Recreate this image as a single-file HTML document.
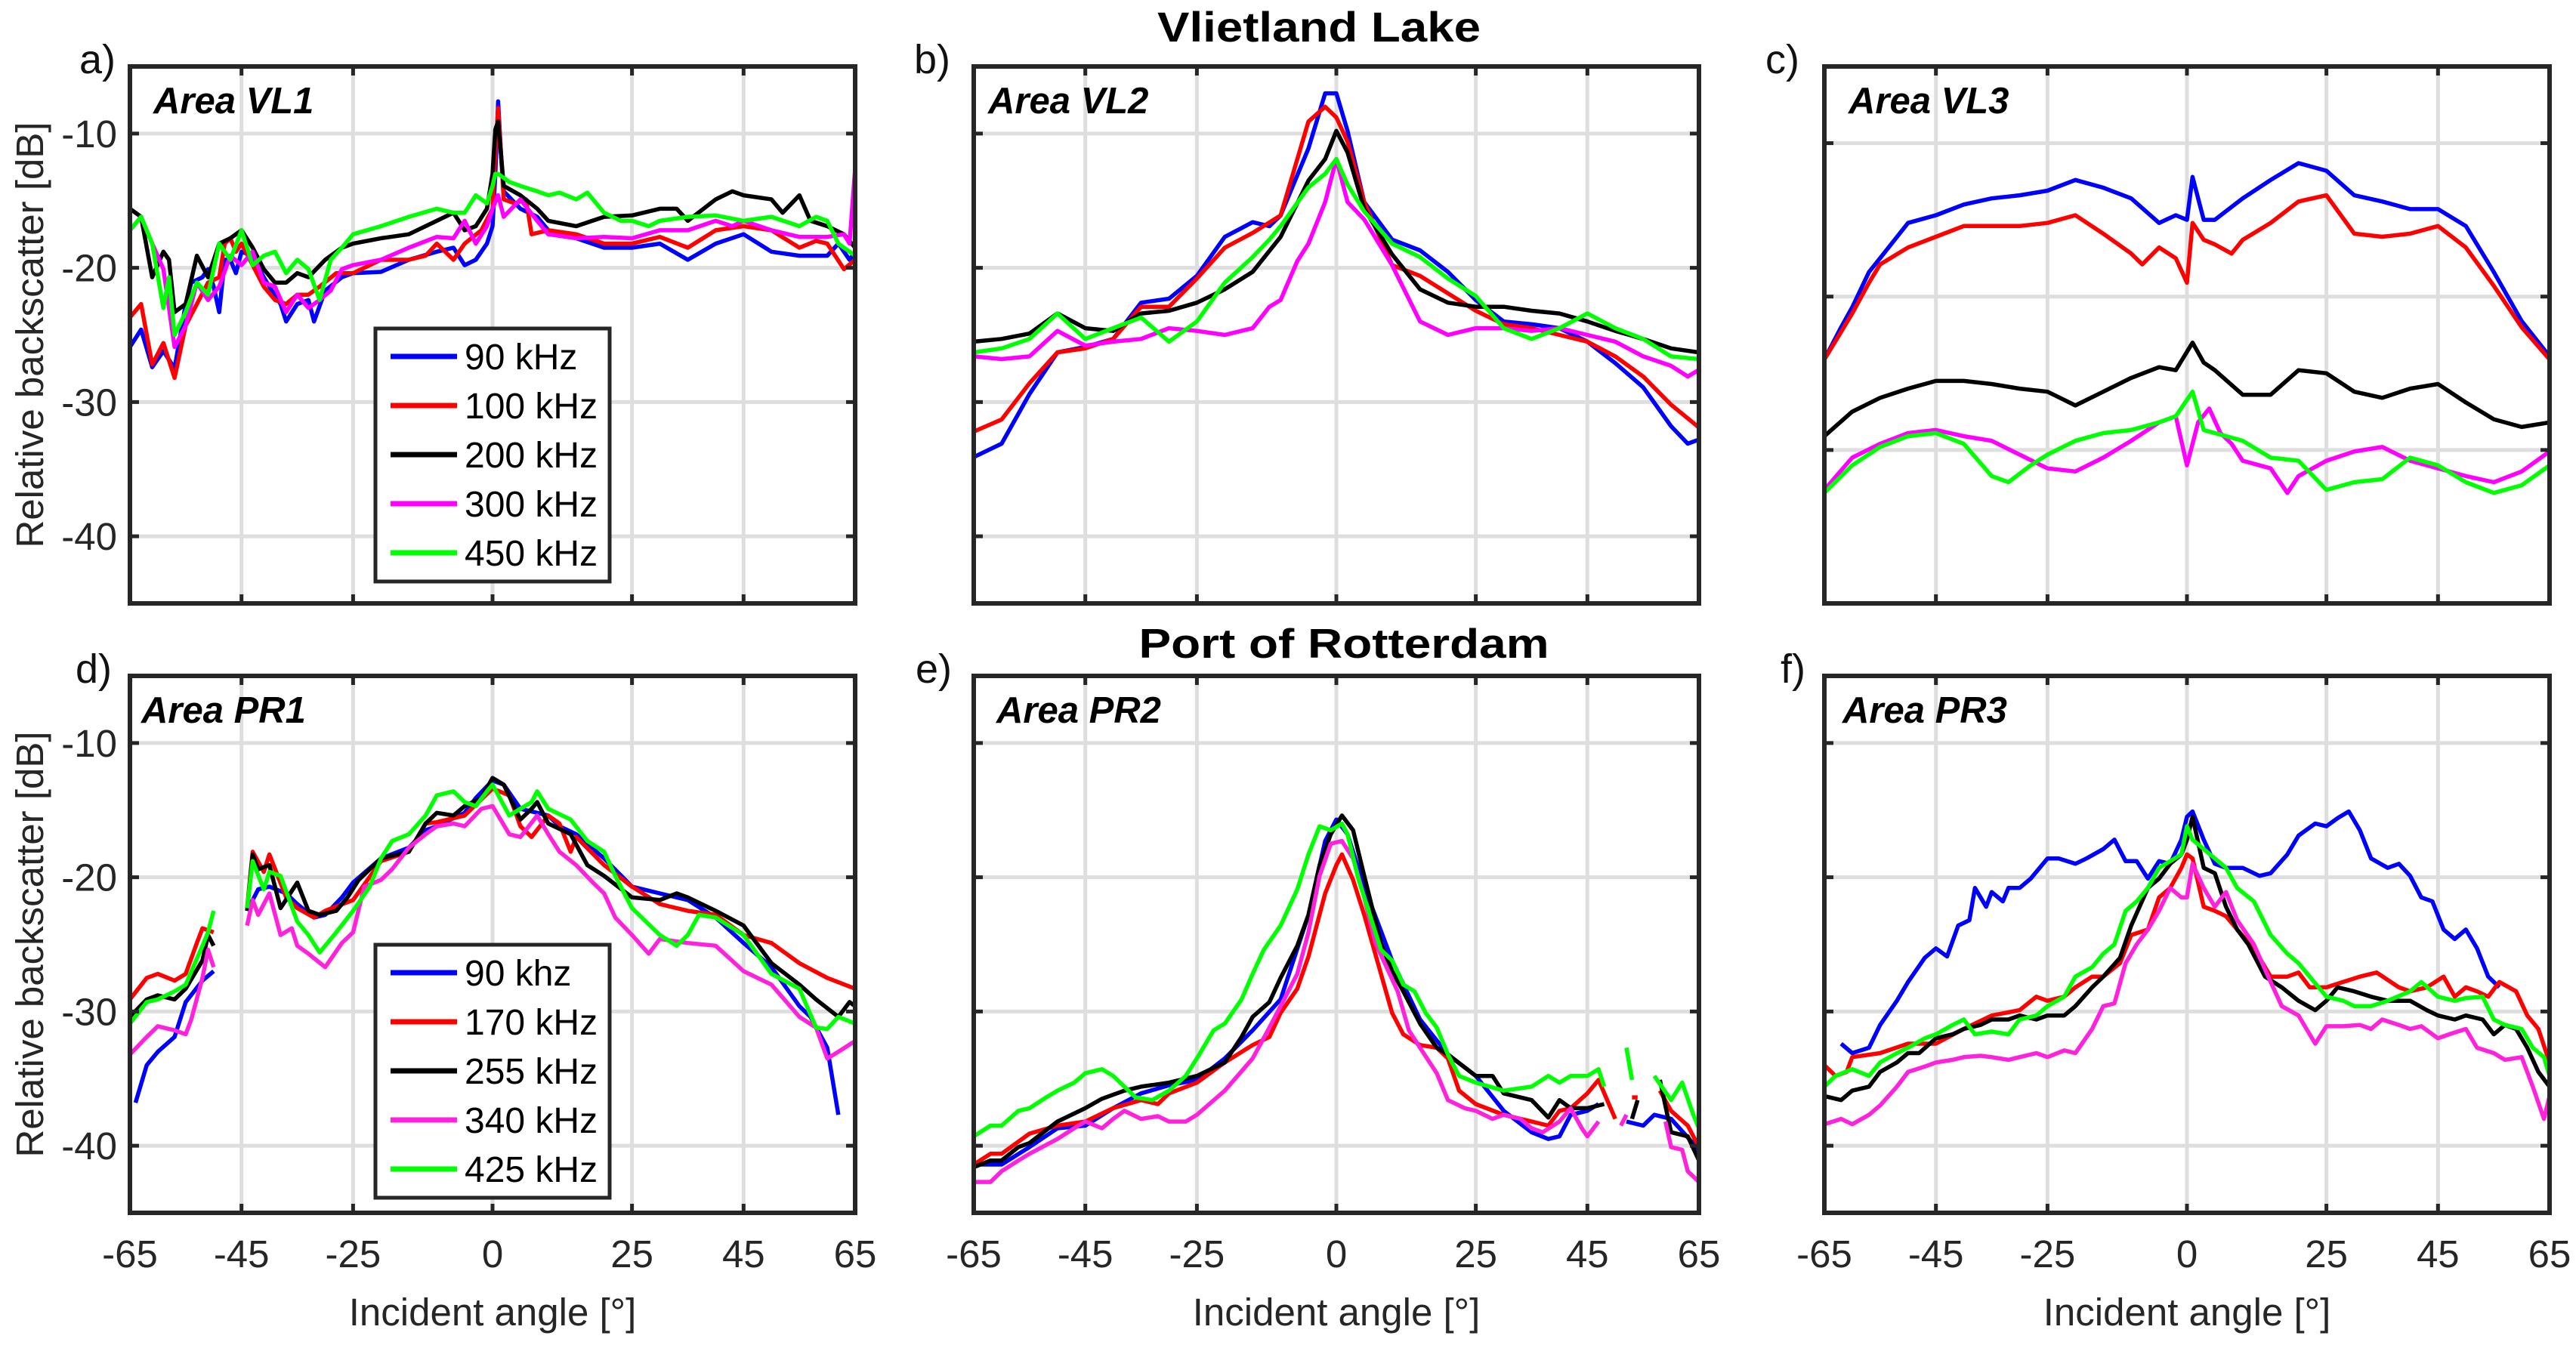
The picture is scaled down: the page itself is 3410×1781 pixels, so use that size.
<!DOCTYPE html>
<html><head><meta charset="utf-8"><title>Relative backscatter vs incident angle</title>
<style>
html,body{margin:0;padding:0;background:#fff;}
svg{display:block;font-family:"Liberation Sans",Arial,sans-serif;}
</style></head>
<body>
<svg id="fig" xmlns="http://www.w3.org/2000/svg" width="3410" height="1781" viewBox="0 0 3410 1781"></svg>
<script>
// ---------- data ----------
const xTicks = [-65,-45,-25,0,25,45,65];
const yTicks = [-40,-30,-20,-10];
const yTicksC = [-40,-30,-20];
const legendTop = ['90 kHz','100 kHz','200 kHz','300 kHz','450 kHz'];
const legendBottom = ['90 khz','170 kHz','255 kHz','340 kHz','425 kHz'];
const panelTitles = ['Area VL1','Area VL2','Area VL3','Area PR1','Area PR2','Area PR3'];

const vl1_s1 = [[-65,-25.9],[-63,-24.6],[-61,-27.4],[-59,-26.2],[-57,-27.5],[-55,-22.7],[-54,-21.1],[-52,-20.7],[-51,-20.1],[-50,-21.4],[-49,-23.3],[-48,-19.4],[-47,-19.4],[-46,-20.4],[-45,-18.8],[-43,-19.1],[-41,-20.7],[-40,-21.4],[-38,-22.7],[-37,-24.0],[-35,-22.7],[-33,-22.4],[-32,-24.0],[-30,-21.7],[-27,-20.7],[-25,-20.4],[-20,-20.3],[-15,-19.4],[-10,-18.8],[-7,-18.5],[-5,-19.8],[-3,-19.4],[-1,-18.2],[0,-16.9],[0.5,-13.0],[1,-7.6],[1.5,-11.4],[2,-14.3],[5,-15.6],[8,-16.2],[10,-17.2],[15,-17.8],[20,-18.5],[25,-18.5],[30,-18.2],[35,-19.4],[40,-18.2],[45,-17.5],[50,-18.8],[55,-19.1],[60,-19.1],[62,-18.2],[64,-19.4],[65,-18.8]];
const vl1_s2 = [[-65,-23.7],[-63,-22.7],[-61,-27.2],[-59,-25.6],[-57,-28.2],[-55,-24.3],[-53,-22.7],[-51,-21.1],[-49,-20.7],[-48,-18.2],[-47,-17.8],[-46,-18.8],[-45,-18.2],[-43,-19.8],[-41,-21.4],[-39,-22.4],[-37,-22.7],[-35,-22.0],[-33,-22.0],[-31,-21.4],[-28,-20.4],[-25,-20.4],[-20,-19.4],[-15,-19.4],[-12,-19.1],[-10,-18.2],[-7,-19.4],[-5,-18.2],[-2,-17.2],[0,-15.6],[0.5,-11.4],[1,-8.1],[1.5,-11.4],[2,-14.9],[4,-15.2],[6,-14.9],[7,-17.5],[10,-17.2],[15,-17.5],[20,-18.2],[25,-18.2],[30,-17.7],[35,-18.5],[40,-17.2],[45,-16.9],[50,-17.2],[55,-18.5],[58,-18.0],[60,-18.2],[63,-20.1],[65,-19.4]];
const vl1_s3 = [[-65,-15.6],[-63,-16.2],[-61,-20.7],[-59,-18.8],[-58,-19.4],[-57,-23.3],[-55,-22.7],[-53,-19.1],[-51,-20.7],[-49,-18.2],[-47,-17.8],[-45,-17.2],[-43,-18.5],[-41,-20.1],[-39,-21.1],[-37,-21.1],[-35,-20.4],[-33,-20.7],[-30,-19.4],[-27,-18.5],[-25,-18.2],[-20,-17.8],[-15,-17.5],[-10,-16.5],[-7,-15.9],[-5,-17.2],[-3,-16.9],[-1,-15.6],[0,-13.0],[0.5,-9.7],[1,-9.1],[2,-13.9],[5,-14.6],[8,-15.6],[10,-16.5],[15,-16.9],[20,-16.2],[25,-16.1],[30,-15.6],[33,-15.6],[35,-16.5],[40,-14.9],[43,-14.3],[45,-14.6],[50,-14.9],[52,-15.9],[55,-14.6],[57,-16.5],[60,-16.9],[63,-17.5],[65,-18.5]];
const vl1_s4 = [[-65,-17.2],[-63,-16.2],[-61,-18.2],[-59,-20.1],[-57,-25.9],[-55,-24.3],[-53,-21.1],[-51,-22.4],[-49,-21.4],[-47,-19.1],[-45,-19.8],[-43,-18.8],[-41,-21.1],[-39,-21.4],[-37,-23.3],[-35,-22.0],[-33,-23.0],[-31,-22.4],[-29,-21.7],[-27,-20.1],[-25,-19.8],[-20,-19.4],[-15,-18.5],[-10,-17.7],[-7,-17.8],[-5,-16.5],[-3,-18.2],[-1,-16.9],[0,-15.6],[1,-14.6],[2,-16.2],[5,-14.9],[8,-16.5],[10,-17.5],[15,-17.8],[20,-17.7],[25,-17.8],[30,-17.2],[35,-17.2],[40,-16.5],[43,-16.9],[45,-16.5],[50,-17.2],[55,-17.7],[60,-17.7],[63,-17.5],[64,-18.2],[65,-12.6]];
const vl1_s5 = [[-65,-17.2],[-63,-16.2],[-61,-18.2],[-59,-23.0],[-58,-20.7],[-57,-25.0],[-55,-23.3],[-53,-21.1],[-51,-22.0],[-49,-18.2],[-47,-19.4],[-45,-17.2],[-43,-19.8],[-41,-19.1],[-39,-18.8],[-37,-20.4],[-35,-19.4],[-33,-20.1],[-31,-22.4],[-29,-19.4],[-27,-18.5],[-25,-17.5],[-20,-16.9],[-15,-16.2],[-10,-15.6],[-7,-15.9],[-5,-15.9],[-3,-14.6],[-1,-15.2],[0,-13.9],[0.5,-13.0],[1,-13.0],[3,-13.6],[5,-13.9],[8,-14.3],[10,-14.6],[12,-14.4],[15,-14.9],[17,-14.4],[20,-15.9],[23,-16.5],[25,-16.5],[28,-16.9],[30,-16.5],[35,-16.2],[40,-16.1],[45,-16.5],[50,-16.2],[55,-16.9],[58,-16.2],[60,-16.5],[62,-18.2],[65,-19.1]];

const vl2_s1 = [[-65,-34.1],[-60,-33.1],[-55,-29.4],[-50,-26.3],[-45,-25.9],[-40,-25.3],[-35,-22.6],[-30,-22.3],[-25,-20.6],[-20,-17.7],[-15,-16.6],[-12,-16.9],[-10,-16.1],[-5,-11.1],[-2,-7.0],[0,-7.0],[2,-9.8],[5,-15.1],[10,-17.9],[15,-18.7],[20,-20.3],[25,-22.4],[30,-24.0],[35,-24.2],[40,-24.5],[45,-25.5],[50,-27.1],[55,-28.9],[60,-31.8],[63,-33.1],[65,-32.8]];
const vl2_s2 = [[-65,-32.2],[-60,-31.3],[-55,-28.6],[-50,-26.3],[-45,-26.0],[-40,-25.3],[-35,-22.9],[-30,-22.9],[-25,-20.8],[-20,-18.5],[-15,-17.4],[-10,-16.1],[-5,-9.1],[-2,-8.0],[0,-8.8],[2,-10.6],[5,-15.1],[10,-19.8],[15,-20.6],[20,-21.9],[25,-23.2],[30,-24.2],[35,-24.5],[40,-25.0],[45,-25.5],[50,-26.6],[55,-28.1],[60,-30.2],[65,-31.9]];
const vl2_s3 = [[-65,-25.5],[-60,-25.3],[-55,-24.9],[-50,-23.4],[-45,-24.5],[-40,-24.7],[-35,-23.4],[-30,-23.2],[-25,-22.6],[-20,-21.6],[-15,-20.3],[-10,-17.7],[-5,-13.5],[-2,-11.9],[0,-9.8],[2,-11.4],[5,-15.6],[10,-19.0],[15,-21.6],[20,-22.6],[25,-22.9],[30,-22.9],[35,-23.2],[40,-23.4],[45,-24.0],[50,-24.7],[55,-25.3],[60,-26.0],[65,-26.3]];
const vl2_s4 = [[-65,-26.6],[-60,-26.8],[-55,-26.6],[-50,-24.7],[-45,-25.8],[-40,-25.5],[-35,-25.3],[-30,-24.5],[-25,-24.7],[-20,-25.0],[-15,-24.5],[-12,-22.9],[-10,-22.4],[-7,-19.5],[-5,-18.2],[-2,-15.1],[0,-11.9],[2,-15.1],[5,-16.4],[10,-19.8],[15,-24.0],[20,-25.0],[25,-24.5],[30,-24.5],[35,-24.7],[40,-24.5],[45,-25.0],[50,-25.5],[55,-26.6],[60,-27.3],[63,-28.1],[65,-27.6]];
const vl2_s5 = [[-65,-26.3],[-60,-26.0],[-55,-25.3],[-50,-23.4],[-45,-25.3],[-40,-24.5],[-35,-23.7],[-30,-25.5],[-25,-24.0],[-20,-21.1],[-15,-19.2],[-12,-17.9],[-10,-16.9],[-5,-14.0],[-2,-13.0],[0,-11.9],[2,-13.8],[5,-15.8],[10,-18.2],[15,-19.2],[20,-20.8],[25,-22.1],[30,-24.5],[35,-25.3],[40,-24.5],[45,-23.4],[50,-24.5],[55,-25.3],[60,-26.6],[65,-26.8]];

const vl3_s1 = [[-65,-34.1],[-62,-32.0],[-60,-30.7],[-57,-28.4],[-55,-27.5],[-50,-25.2],[-45,-24.7],[-40,-24.0],[-35,-23.6],[-30,-23.4],[-25,-23.1],[-20,-22.4],[-15,-22.9],[-10,-23.6],[-5,-25.2],[-2,-24.7],[0,-25.0],[1,-22.2],[3,-25.0],[5,-25.0],[10,-23.6],[15,-22.4],[20,-21.3],[25,-21.8],[30,-23.4],[35,-23.8],[40,-24.3],[45,-24.3],[50,-25.4],[55,-28.4],[60,-31.6],[65,-33.9]];
const vl3_s2 = [[-65,-34.1],[-62,-32.3],[-60,-31.1],[-57,-29.1],[-55,-27.9],[-50,-26.8],[-45,-26.1],[-40,-25.4],[-35,-25.4],[-30,-25.4],[-25,-25.2],[-20,-24.7],[-15,-25.9],[-10,-27.2],[-8,-27.9],[-5,-26.8],[-2,-27.5],[0,-29.1],[1,-25.2],[3,-26.3],[5,-26.6],[8,-27.2],[10,-26.3],[15,-25.2],[20,-23.8],[25,-23.4],[30,-25.9],[35,-26.1],[40,-25.9],[45,-25.4],[50,-26.8],[55,-29.3],[60,-32.0],[65,-34.1]];
const vl3_s3 = [[-65,-39.1],[-60,-37.5],[-55,-36.6],[-50,-36.0],[-45,-35.5],[-40,-35.5],[-35,-35.7],[-30,-36.0],[-25,-36.2],[-20,-37.1],[-15,-36.2],[-10,-35.3],[-5,-34.6],[-2,-34.8],[1,-33.0],[3,-34.3],[5,-34.8],[10,-36.4],[15,-36.4],[20,-34.8],[25,-35.0],[30,-36.2],[35,-36.6],[40,-36.0],[45,-35.7],[50,-36.9],[55,-38.0],[60,-38.5],[65,-38.2]];
const vl3_s4 = [[-65,-42.6],[-60,-40.5],[-55,-39.6],[-50,-38.9],[-45,-38.7],[-40,-39.1],[-35,-39.4],[-30,-40.3],[-25,-41.2],[-20,-41.4],[-15,-40.5],[-10,-39.4],[-5,-38.2],[-2,-37.8],[0,-41.0],[2,-38.2],[4,-37.3],[6,-38.9],[8,-39.6],[10,-40.7],[15,-41.2],[18,-42.8],[20,-41.7],[25,-40.7],[30,-40.1],[35,-39.8],[40,-40.7],[45,-41.2],[50,-41.7],[55,-42.1],[60,-41.4],[65,-40.1]];
const vl3_s5 = [[-65,-42.8],[-60,-41.0],[-55,-39.8],[-50,-39.1],[-45,-38.9],[-40,-39.6],[-35,-41.7],[-32,-42.1],[-28,-41.0],[-25,-40.3],[-20,-39.4],[-15,-38.9],[-10,-38.7],[-5,-38.2],[-2,-37.8],[1,-36.2],[3,-38.7],[5,-38.9],[10,-39.4],[15,-40.5],[20,-40.7],[25,-42.6],[30,-42.1],[35,-41.9],[40,-40.5],[45,-41.0],[50,-42.1],[55,-42.8],[60,-42.3],[65,-41.0]];

const pr1_s1 = [[-64,-36.8],[-62,-34.0],[-60,-33.0],[-57,-31.9],[-55,-29.3],[-52,-27.7],[-50,-27.0],[-47,null],[-44,-22.5],[-42,-20.9],[-40,-20.7],[-37,-21.2],[-35,-22.0],[-32,-23.0],[-30,-22.8],[-27,-21.5],[-25,-20.4],[-20,-18.6],[-15,-17.8],[-12,-16.5],[-10,-16.2],[-5,-15.2],[-3,-14.1],[0,-12.8],[2,-13.1],[5,-14.9],[8,-15.2],[10,-15.4],[12,-16.2],[15,-16.8],[20,-18.6],[25,-20.7],[30,-21.2],[35,-21.7],[40,-23.0],[45,-24.9],[50,-26.7],[55,-29.6],[57,-30.4],[60,-32.7],[62,-37.7]];
const pr1_s2 = [[-65,-29.1],[-62,-27.5],[-60,-27.2],[-57,-27.7],[-55,-27.2],[-53,-24.9],[-52,-23.8],[-50,-24.1],[-47,null],[-44,-22.3],[-43,-18.1],[-41,-19.6],[-40,-18.3],[-37,-21.5],[-35,-22.3],[-32,-23.0],[-30,-22.5],[-25,-21.7],[-20,-18.8],[-15,-18.1],[-12,-16.0],[-10,-15.9],[-5,-15.4],[0,-13.4],[3,-13.9],[5,-16.2],[7,-17.0],[10,-15.4],[12,-16.0],[14,-18.1],[15,-17.0],[20,-19.1],[25,-20.7],[30,-22.0],[35,-22.5],[40,-22.8],[45,-24.3],[50,-24.9],[55,-26.4],[60,-27.5],[65,-28.3]];
const pr1_s3 = [[-65,-30.4],[-62,-29.1],[-60,-28.8],[-57,-29.1],[-55,-28.3],[-52,-26.2],[-51,-24.3],[-50,-25.1],[-47,null],[-44,-22.5],[-43,-18.3],[-42,-19.4],[-40,-19.1],[-38,-22.3],[-35,-20.4],[-33,-22.5],[-31,-22.8],[-28,-22.5],[-26,-21.5],[-24,-20.2],[-20,-18.6],[-15,-18.1],[-12,-16.0],[-10,-15.2],[-7,-15.4],[-5,-14.7],[-2,-14.1],[0,-12.6],[2,-13.1],[5,-15.7],[7,-14.9],[8,-14.4],[10,-16.0],[14,-16.8],[17,-19.1],[20,-19.9],[25,-21.5],[30,-21.7],[33,-21.2],[35,-21.5],[40,-22.5],[45,-23.6],[50,-26.4],[55,-28.0],[58,-29.1],[62,-30.4],[64,-29.3],[65,-29.6]];
const pr1_s4 = [[-65,-33.2],[-62,-31.9],[-60,-31.1],[-57,-31.4],[-55,-31.7],[-54,-30.6],[-52,-27.5],[-51,-25.4],[-50,-26.7],[-47,null],[-44,-23.6],[-43,-21.7],[-42,-22.8],[-40,-21.2],[-38,-24.3],[-36,-23.8],[-35,-25.1],[-33,-25.7],[-30,-26.7],[-27,-24.9],[-25,-24.1],[-23,-20.7],[-20,-20.2],[-18,-19.4],[-15,-17.8],[-12,-16.8],[-10,-16.2],[-7,-16.0],[-5,-16.2],[-2,-14.9],[0,-14.7],[3,-16.8],[5,-17.0],[8,-15.4],[10,-16.8],[12,-18.1],[15,-19.1],[18,-20.4],[20,-21.2],[22,-23.0],[25,-24.3],[28,-25.7],[30,-24.6],[35,-24.9],[40,-25.1],[45,-27.0],[50,-28.0],[55,-30.4],[58,-31.2],[60,-33.5],[62,-33.0],[65,-32.2]];
const pr1_s5 = [[-65,-30.9],[-62,-29.3],[-60,-29.1],[-57,-28.5],[-55,-28.0],[-52,-25.1],[-51,-24.1],[-50,-22.5],[-47,null],[-44,-22.3],[-43,-18.8],[-41,-20.9],[-40,-19.6],[-38,-19.9],[-35,-23.3],[-33,-24.3],[-31,-25.6],[-28,-24.1],[-25,-22.5],[-22,-20.7],[-20,-18.6],[-18,-17.3],[-15,-16.8],[-12,-15.4],[-10,-13.9],[-7,-13.6],[-5,-14.4],[-3,-14.7],[-1,-13.6],[0,-13.1],[3,-15.4],[5,-14.9],[7,-14.4],[8,-13.6],[10,-14.9],[14,-15.7],[17,-17.3],[20,-18.1],[22,-19.9],[25,-22.3],[30,-24.3],[33,-25.1],[35,-24.3],[37,-22.8],[40,-23.0],[45,-24.3],[50,-27.2],[55,-28.3],[58,-31.2],[60,-31.3],[62,-30.4],[65,-30.9]];

const pr2_s1 = [[-65,-41.4],[-60,-41.4],[-55,-40.1],[-50,-38.7],[-45,-38.5],[-40,-37.2],[-35,-36.1],[-30,-35.5],[-25,-35.1],[-20,-33.5],[-15,-31.4],[-10,-29.1],[-5,-22.8],[-2,-17.3],[0,-15.7],[2,-16.8],[5,-20.7],[10,-26.2],[15,-30.6],[20,-33.2],[25,-34.8],[30,-37.4],[35,-39.0],[38,-39.5],[40,-39.3],[42,-37.7],[45,-37.4],[47,-36.9],[48,null],[52,-38.2],[55,-38.5],[57,-37.7],[60,-38.0],[65,-40.3]];
const pr2_s2 = [[-65,-41.4],[-62,-40.6],[-60,-40.6],[-55,-39.1],[-50,-38.5],[-45,-38.2],[-40,-37.2],[-35,-36.6],[-32,-36.9],[-30,-36.1],[-25,-35.3],[-20,-33.8],[-15,-32.5],[-12,-31.9],[-10,-30.1],[-7,-28.3],[-5,-25.9],[-2,-21.2],[0,-19.1],[1,-18.3],[3,-20.2],[5,-22.8],[8,-27.2],[10,-30.1],[12,-31.7],[15,-32.5],[18,-32.7],[20,-33.5],[22,-35.9],[25,-36.9],[30,-37.7],[35,-38.2],[38,-38.5],[40,-37.4],[42,-37.2],[45,-36.1],[47,-35.1],[50,-38.0],[51,null],[53,-36.4],[54,-36.4],[55,null],[58,-35.9],[60,-37.4],[63,-38.5],[65,-40.1]];
const pr2_s3 = [[-65,-41.6],[-62,-41.1],[-60,-41.1],[-57,-40.1],[-55,-39.8],[-50,-38.2],[-45,-37.2],[-42,-36.5],[-38,-35.9],[-35,-35.6],[-30,-35.3],[-25,-34.8],[-20,-33.8],[-17,-31.9],[-15,-30.4],[-12,-29.3],[-10,-27.5],[-7,-25.1],[-5,-22.8],[-3,-19.1],[-1,-16.8],[1,-15.4],[3,-16.5],[5,-19.9],[8,-24.9],[10,-27.0],[12,-28.5],[15,-30.9],[18,-32.7],[20,-33.2],[25,-34.8],[28,-34.8],[30,-36.1],[35,-36.6],[38,-37.9],[40,-36.6],[42,-37.2],[45,-37.2],[48,-36.9],[49,null],[53,-38.0],[54,-36.6],[55,null],[58,-35.1],[60,-39.0],[63,-39.3],[65,-41.1]];
const pr2_s4 = [[-65,-42.7],[-62,-42.7],[-60,-41.9],[-57,-41.1],[-55,-40.6],[-50,-39.5],[-47,-38.7],[-45,-38.2],[-42,-38.7],[-40,-38.0],[-38,-37.4],[-35,-38.0],[-32,-37.8],[-30,-38.2],[-27,-38.2],[-25,-37.7],[-20,-35.9],[-15,-33.5],[-12,-31.2],[-10,-29.6],[-7,-27.2],[-5,-24.1],[-3,-19.9],[-1,-17.5],[1,-17.3],[3,-18.6],[5,-21.5],[7,-24.9],[9,-26.7],[11,-28.5],[13,-31.4],[15,-32.7],[18,-34.6],[20,-36.6],[23,-37.2],[25,-37.4],[28,-38.0],[30,-37.7],[33,-38.0],[35,-38.7],[37,-39.0],[40,-38.2],[42,-37.2],[44,-38.7],[45,-39.3],[47,-38.2],[48,null],[51,-38.5],[52,-37.7],[53,null],[59,-38.2],[60,-40.1],[62,-40.3],[63,-41.9],[65,-42.7]];
const pr2_s5 = [[-65,-39.3],[-62,-38.5],[-60,-38.5],[-57,-37.4],[-55,-37.2],[-52,-36.4],[-50,-35.9],[-47,-35.3],[-45,-34.6],[-42,-34.3],[-40,-34.8],[-38,-35.6],[-36,-36.4],[-33,-36.6],[-30,-35.9],[-27,-34.8],[-25,-33.5],[-22,-31.4],[-20,-30.9],[-17,-29.1],[-15,-27.2],[-13,-25.4],[-10,-23.6],[-7,-20.9],[-5,-18.3],[-3,-16.2],[-1,-16.5],[1,-16.0],[2,-16.8],[4,-20.2],[6,-22.8],[8,-25.4],[10,-26.2],[12,-28.0],[14,-28.5],[16,-30.1],[18,-31.2],[20,-33.2],[22,-34.8],[25,-35.3],[30,-35.9],[35,-35.6],[38,-34.8],[40,-35.3],[42,-34.8],[45,-34.8],[47,-34.3],[48,-35.6],[49,null],[52,-32.7],[53,-35.1],[54,null],[57,-34.8],[60,-36.6],[62,-35.3],[64,-37.7],[65,-38.7]];

const pr3_s1 = [[-62,-32.4],[-60,-33.1],[-57,-32.7],[-55,-31.0],[-52,-29.2],[-50,-27.8],[-47,-26.0],[-45,-25.3],[-43,-25.9],[-41,-23.6],[-39,-23.2],[-38,-20.8],[-36,-22.2],[-35,-21.1],[-33,-21.8],[-32,-20.8],[-30,-20.8],[-28,-20.1],[-25,-18.6],[-23,-18.6],[-20,-19.0],[-18,-18.6],[-15,-17.9],[-13,-17.2],[-11,-18.8],[-9,-18.8],[-7,-20.1],[-5,-18.8],[-3,-19.0],[-1,-17.2],[0,-15.5],[1,-15.1],[3,-17.2],[5,-19.0],[7,-19.3],[10,-19.3],[13,-19.9],[15,-19.7],[18,-18.3],[20,-16.9],[23,-16.0],[25,-16.2],[27,-15.6],[29,-15.1],[31,-16.5],[33,-18.6],[36,-19.3],[38,-19.0],[40,-19.9],[42,-21.5],[44,-21.8],[46,-23.9],[48,-24.6],[50,-23.9],[52,-25.3],[54,-27.4],[56,-28.2]];
const pr3_s2 = [[-65,-34.0],[-63,-34.8],[-61,-34.5],[-60,-33.4],[-55,-33.1],[-50,-32.4],[-45,-32.4],[-40,-31.3],[-35,-30.3],[-30,-29.9],[-27,-28.9],[-25,-29.2],[-22,-28.9],[-20,-28.2],[-17,-27.4],[-15,-27.4],[-12,-26.4],[-10,-24.3],[-7,-23.9],[-5,-21.5],[-3,-20.8],[-1,-19.3],[0,-18.3],[1,-18.6],[3,-22.2],[5,-22.5],[7,-22.9],[9,-23.9],[12,-25.3],[15,-27.4],[18,-27.4],[20,-27.1],[22,-28.2],[25,-28.2],[28,-27.8],[31,-27.4],[34,-27.1],[38,-28.2],[40,-28.5],[43,-28.2],[46,-27.4],[48,-28.9],[50,-28.2],[52,-28.5],[54,-28.9],[56,-27.8],[59,-28.5],[61,-30.3],[63,-31.3],[65,-33.8]];
const pr3_s3 = [[-65,-36.3],[-62,-36.6],[-60,-35.9],[-57,-35.6],[-55,-34.5],[-52,-33.8],[-50,-33.1],[-48,-33.1],[-45,-32.0],[-42,-31.7],[-40,-31.3],[-37,-31.0],[-35,-30.6],[-32,-30.6],[-30,-30.3],[-27,-30.6],[-25,-30.3],[-22,-30.3],[-20,-29.6],[-17,-28.2],[-15,-27.4],[-12,-26.0],[-10,-23.6],[-7,-20.8],[-5,-20.1],[-3,-19.0],[-1,-18.3],[0,-17.2],[1,-15.5],[3,-19.3],[5,-19.7],[7,-22.2],[9,-23.9],[11,-25.0],[14,-27.4],[17,-28.2],[20,-29.2],[23,-29.9],[25,-29.2],[27,-28.2],[30,-28.5],[33,-28.9],[36,-29.2],[40,-29.2],[43,-29.9],[45,-30.3],[48,-30.6],[50,-30.3],[53,-30.6],[55,-31.7],[57,-31.0],[59,-31.3],[61,-32.7],[63,-34.5],[65,-35.6]];
const pr3_s4 = [[-65,-38.4],[-62,-38.0],[-60,-38.4],[-57,-37.7],[-55,-37.0],[-52,-35.6],[-50,-34.5],[-47,-34.1],[-45,-33.8],[-42,-33.6],[-40,-33.4],[-37,-33.3],[-35,-33.4],[-32,-33.6],[-30,-33.4],[-27,-33.1],[-25,-33.4],[-22,-32.9],[-20,-33.1],[-17,-31.3],[-15,-29.6],[-13,-29.4],[-11,-26.4],[-9,-25.0],[-7,-23.9],[-5,-22.5],[-3,-20.8],[-1,-21.5],[0,-21.5],[1,-19.0],[3,-20.8],[5,-22.2],[7,-21.1],[9,-23.2],[12,-25.0],[15,-27.8],[17,-29.6],[20,-30.3],[23,-32.4],[25,-31.1],[28,-31.1],[31,-31.0],[33,-31.3],[35,-30.6],[38,-31.0],[40,-31.3],[42,-31.1],[45,-32.0],[47,-31.7],[50,-31.3],[52,-32.7],[55,-33.1],[57,-33.6],[60,-33.4],[62,-35.6],[64,-38.0],[65,-36.3]];
const pr3_s5 = [[-65,-35.6],[-63,-34.8],[-60,-34.3],[-57,-34.8],[-55,-33.8],[-52,-33.1],[-50,-32.7],[-47,-32.0],[-45,-31.7],[-42,-31.0],[-40,-30.6],[-38,-31.7],[-35,-31.5],[-32,-31.7],[-30,-30.6],[-27,-30.3],[-25,-29.6],[-22,-28.9],[-20,-27.4],[-17,-26.7],[-15,-25.7],[-13,-25.0],[-11,-22.5],[-9,-21.8],[-7,-20.8],[-5,-19.3],[-3,-18.8],[-1,-18.3],[0,-16.2],[1,-17.2],[3,-17.9],[5,-18.6],[7,-19.3],[9,-20.8],[12,-21.8],[15,-24.3],[18,-25.7],[20,-26.4],[22,-27.4],[25,-28.9],[28,-29.2],[30,-29.6],[33,-29.6],[36,-29.2],[40,-28.5],[42,-27.8],[45,-28.9],[48,-29.2],[50,-29.0],[53,-28.9],[55,-30.6],[57,-31.0],[60,-31.3],[62,-32.7],[64,-33.4],[65,-34.8]];

// ---------- rendering ----------
const NS = 'http://www.w3.org/2000/svg';
const svg = document.getElementById('fig');
function mk(tag, attrs, parent){ const e=document.createElementNS(NS,tag); for(const k in attrs) e.setAttribute(k,attrs[k]); (parent||svg).appendChild(e); return e; }
function txt(str, attrs, parent){ const e=mk('text',attrs,parent); e.textContent=str; return e; }

const COLORS = ['#0000ff','#ff0000','#000000','#ff00ff','#00ff00'];
const COLORS_B = ['#0000ff','#ff0000','#000000','#ff22dd','#00ff00'];
const W = 960, H = 711;
const panels = [
  {l:172,t:88,ylim:[-45,-5],yt:yTicks,series:[vl1_s1,vl1_s2,vl1_s3,vl1_s4,vl1_s5],letter:'a)',lx:105,ax:31,leg:legendTop,cols:COLORS,name:'vl1',ylab:true},
  {l:1289,t:88,ylim:[-45,-5],yt:yTicks,series:[vl2_s1,vl2_s2,vl2_s3,vl2_s4,vl2_s5],letter:'b)',lx:1210,ax:19,cols:COLORS,name:'vl2'},
  {l:2415,t:88,ylim:[-50,-15],yt:yTicksC,series:[vl3_s1,vl3_s2,vl3_s3,vl3_s4,vl3_s5],letter:'c)',lx:2337,ax:32,cols:COLORS,name:'vl3'},
  {l:172,t:895,ylim:[-45,-5],yt:yTicks,series:[pr1_s1,pr1_s2,pr1_s3,pr1_s4,pr1_s5],letter:'d)',lx:100,ax:15,leg:legendBottom,cols:COLORS_B,name:'pr1',ylab:true,xt:true},
  {l:1289,t:895,ylim:[-45,-5],yt:yTicks,series:[pr2_s1,pr2_s2,pr2_s3,pr2_s4,pr2_s5],letter:'e)',lx:1212,ax:30,cols:COLORS_B,name:'pr2',xt:true},
  {l:2415,t:895,ylim:[-45,-5],yt:yTicks,series:[pr3_s1,pr3_s2,pr3_s3,pr3_s4,pr3_s5],letter:'f)',lx:2357,ax:24,cols:COLORS_B,name:'pr3',xt:true}
];

panels.forEach((p,pi)=>{
  const g = mk('g',{});
  
  
  const xs = v => p.l + (v+65)/130*W;
  const ys = v => p.t + (p.ylim[1]-v)/(p.ylim[1]-p.ylim[0])*H;
  mk('rect',{x:p.l,y:p.t,width:W,height:H,fill:'#fff'},g);
  xTicks.forEach(v=>{ if(v>-65&&v<65){ const gl=mk('line',{x1:xs(v),x2:xs(v),y1:p.t,y2:p.t+H,stroke:'#dedede','stroke-width':5},g);
      }});
  p.yt.forEach(v=>{ const gl=mk('line',{x1:p.l,x2:p.l+W,y1:ys(v),y2:ys(v),stroke:'#dedede','stroke-width':5},g);
      });
  const cp = mk('clipPath',{id:'clip'+pi},g); mk('rect',{x:p.l,y:p.t,width:W,height:H},cp);
  const sg = mk('g',{'clip-path':'url(#clip'+pi+')'},g);
  p.series.forEach((s,si)=>{
    let d='', pen=false;
    s.forEach(([a,v])=>{ if(v===null){pen=false;return;} d+=(pen?'L':'M')+xs(a).toFixed(1)+' '+ys(v).toFixed(1); pen=true; });
    const path = mk('path',{d:d,fill:'none',stroke:p.cols[si],'stroke-width':5.5,'stroke-linejoin':'round'},sg);
    
    
  });
  xTicks.forEach(v=>{ mk('line',{x1:xs(v),x2:xs(v),y1:p.t+H,y2:p.t+H-12,stroke:'#262626','stroke-width':5},g); mk('line',{x1:xs(v),x2:xs(v),y1:p.t,y2:p.t+12,stroke:'#262626','stroke-width':5},g); });
  p.yt.forEach(v=>{ mk('line',{x1:p.l,x2:p.l+12,y1:ys(v),y2:ys(v),stroke:'#262626','stroke-width':5},g); mk('line',{x1:p.l+W,x2:p.l+W-12,y1:ys(v),y2:ys(v),stroke:'#262626','stroke-width':5},g); });
  const box = mk('rect',{x:p.l,y:p.t,width:W,height:H,fill:'none',stroke:'#262626','stroke-width':6},g);
   
  if(p.ylab){ p.yt.forEach(v=>{ const t=txt(String(v),{x:155,y:ys(v)+18,'text-anchor':'end','font-size':51,fill:'#262626'},g);
      });
    const yl = txt('Relative backscatter [dB]',{x:0,y:0,transform:'translate(57,'+(p.t+H/2)+') rotate(-90)','text-anchor':'middle','font-size':51,fill:'#262626'},g);
      }
  if(p.xt){ xTicks.forEach(v=>{ const t=txt(String(v),{x:xs(v),y:p.t+H+72,'text-anchor':'middle','font-size':51,fill:'#262626'},g);
        });
    const xl = txt('Incident angle [°]',{x:p.l+W/2,y:1755,'text-anchor':'middle','font-size':51,fill:'#262626'},g);
      }
  const lt = txt(p.letter,{x:p.lx,y:p.t+9,'font-size':54,fill:'#111'},g);
   
  const at = txt(panelTitles[pi],{x:p.l+p.ax,y:p.t+62,'font-size':49,'font-weight':'bold','font-style':'italic',fill:'#000'},g);
   
  if(p.leg){
    const lg = mk('g',{},g);
     
    const lt0 = p.t + (p.name==='vl1'?347:356);
    mk('rect',{x:497,y:lt0,width:310,height:335,fill:'#fff',stroke:'#262626','stroke-width':5},lg);
    p.leg.forEach((lab,i)=>{
      const cy = lt0 + 37 + i*65;
      const e = mk('g',{},lg);
       
      mk('line',{x1:517,x2:605,y1:cy,y2:cy,stroke:p.cols[i],'stroke-width':7},e);
      txt(lab,{x:615,y:cy+17,'font-size':48,fill:'#000'},e);
    });
  }
});
const t1 = txt('Vlietland Lake',{x:1746,y:55,'text-anchor':'middle','font-size':56,'font-weight':'bold',fill:'#000',textLength:428,lengthAdjust:'spacingAndGlyphs'});
 
const t2 = txt('Port of Rotterdam',{x:1779,y:871,'text-anchor':'middle','font-size':55,'font-weight':'bold',fill:'#000',textLength:543,lengthAdjust:'spacingAndGlyphs'});
 
</script>
</body></html>
